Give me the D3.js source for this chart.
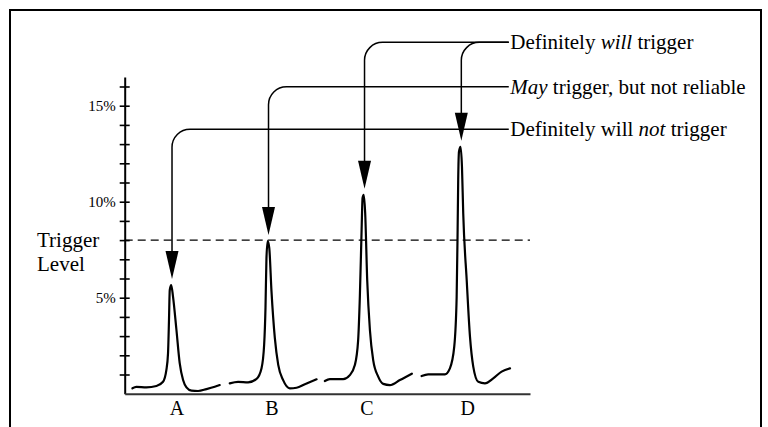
<!DOCTYPE html>
<html><head><meta charset="utf-8">
<script src="https://cdn.jsdelivr.net/npm/d3@7"></script>
<style>
html,body{margin:0;padding:0;background:#fff;}
svg{display:block;}
text{font-family:"Liberation Serif","Times New Roman",serif;fill:#000;}
</style>
</head><body>
<svg id="chart" width="768" height="427"></svg>
<script>
// ---- data ----
const categories = ["A", "B", "C", "D"];
const categoryX = [5.36, 15.21, 25.06, 35.5];

const peakA = [[0.80,0.28],[1.21,0.36],[2.25,0.33],[3.29,0.40],[3.97,0.62],[4.32,1.24],[4.49,2.11],[4.59,3.84],[4.67,5.40],[4.82,5.66],[5.01,5.04],[5.36,3.33],[5.70,1.59],[6.05,0.71],[6.40,0.33],[6.92,0.16],[7.60,0.14],[8.47,0.24],[9.33,0.36],[9.85,0.45]];
const peakB = [[10.89,0.54],[11.75,0.62],[12.79,0.59],[13.66,0.77],[14.18,1.33],[14.45,2.55],[14.59,4.47],[14.69,7.07],[14.82,7.95],[14.98,7.60],[15.21,5.34],[15.56,2.89],[15.91,1.50],[16.42,0.71],[17.11,0.28],[17.81,0.31],[18.67,0.49],[19.88,0.75]];
const peakC = [[20.74,0.66],[21.26,0.76],[22.64,0.76],[23.33,0.97],[23.85,1.49],[24.19,2.78],[24.37,5.09],[24.55,8.53],[24.65,10.20],[24.77,10.36],[24.92,9.41],[25.13,5.92],[25.41,3.32],[25.75,1.75],[26.27,0.89],[26.79,0.51],[27.48,0.45],[28.52,0.71],[29.76,1.04]];
const peakD = [[30.77,0.92],[31.45,1.01],[33.18,1.01],[33.70,1.32],[34.15,2.45],[34.40,5.05],[34.50,8.53],[34.56,11.14],[34.64,12.60],[34.80,12.86],[34.95,11.82],[35.08,9.40],[35.44,5.92],[35.78,2.97],[36.12,1.41],[36.64,0.62],[37.33,0.54],[38.19,0.80],[39.06,1.15],[39.93,1.32]];
const peaks = [peakA, peakB, peakC, peakD];

const yTicks = [1,2,3,4,5,6,7,8,9,10,11,12,13,14,15,16];
const yTickLabels = {5: "5%", 10: "10%", 15: "15%"};
const triggerLevel = 8;
const triggerLabel = ["Trigger", "Level"];

// annotation leaders: which peak, level of the leader line
const annotationPeak = [0, 1, 2, 3];
const annotationLevel = [13.77, 15.99, 18.3, 18.3];
const annotationEnd = 39.8;
const annotationText = [
  [["Definitely will ", false], ["not", true], [" trigger", false]],
  [["May", true], [" trigger, but not reliable", false]],
  [["Definitely ", false], ["will", true], [" trigger", false]],
  null
];

// ---- drawing ----
const svg = d3.select("#chart");
svg.append("rect").attr("x", 10).attr("y", 10).attr("width", 751).attr("height", 440)
  .attr("fill", "none").attr("stroke", "#000").attr("stroke-width", 2);

const x = d3.scaleLinear().domain([0, 42]).range([124.7, 530]);
const y = d3.scaleLinear().domain([0, 16.5]).range([393.7, 76.9]);

// trigger dashed line
svg.append("line")
  .attr("x1", x(0)).attr("x2", x(42))
  .attr("y1", y(triggerLevel)).attr("y2", y(triggerLevel))
  .attr("stroke", "#000").attr("stroke-width", 1.4).attr("stroke-dasharray", "8,5");

svg.append("g").selectAll("text").data(triggerLabel).join("text")
  .attr("x", 37).attr("y", (d, i) => y(triggerLevel) + 7 + i * 24)
  .attr("font-size", 21).text(d => d);

// peaks
const line = d3.line().x(d => x(d[0])).y(d => y(d[1])).curve(d3.curveMonotoneX);
svg.append("g").selectAll("path").data(peaks).join("path")
  .attr("d", line).attr("fill", "none").attr("stroke", "#000")
  .attr("stroke-width", 2.2).attr("stroke-linejoin", "round").attr("stroke-linecap", "round");

// y axis
const yAxis = d3.axisLeft(y).tickValues(yTicks).tickSizeInner(5).tickSizeOuter(0)
  .tickPadding(4).tickFormat(d => yTickLabels[d] || "");
const gy = svg.append("g").attr("transform", `translate(${x(0)},0)`).call(yAxis);
gy.selectAll(".tick line").attr("x1", 5).attr("x2", -5).attr("stroke", "#000").attr("stroke-width", 1.6);
gy.select(".domain").attr("stroke", "#000").attr("stroke-width", 2);
gy.selectAll(".tick text").attr("font-size", 15).attr("font-family", "Liberation Serif");

// x axis
const xAxis = d3.axisBottom(x).tickValues(categoryX).tickSize(0).tickPadding(7)
  .tickFormat((d, i) => categories[i]);
const gx = svg.append("g").attr("transform", `translate(0,${y(0)})`).call(xAxis);
gx.select(".domain").attr("stroke", "#333").attr("stroke-width", 2);
gx.selectAll(".tick text").attr("font-size", 20).attr("font-family", "Liberation Serif");

// annotations
const r = 18, tipGap = 6, headH = 28, headW = 13;
const ann = svg.append("g");
annotationPeak.forEach((pi, k) => {
  const pk = peaks[pi];
  const top = pk.reduce((a, b) => (b[1] > a[1] ? b : a));
  const ax = x(top[0]) + 0.8;
  const tipY = y(top[1]) - tipGap;
  const ly = y(annotationLevel[k]);
  const p = d3.path();
  p.moveTo(ax, tipY - headH + 2);
  p.lineTo(ax, ly + r);
  p.arcTo(ax, ly, ax + r, ly, r);
  p.lineTo(x(annotationEnd), ly);
  ann.append("path").attr("d", p.toString()).attr("fill", "none")
    .attr("stroke", "#000").attr("stroke-width", 1.5);
  ann.append("path")
    .attr("d", `M${ax - headW / 2},${tipY - headH}L${ax + headW / 2},${tipY - headH}L${ax},${tipY}Z`)
    .attr("fill", "#000");
  const segs = annotationText[k];
  if (segs) {
    const t = ann.append("text").attr("x", x(annotationEnd) + 1.5).attr("y", ly)
      .attr("dy", "0.33em").attr("font-size", 21);
    segs.forEach(s => t.append("tspan").attr("font-style", s[1] ? "italic" : "normal").text(s[0]));
  }
});
</script>
</body></html>
